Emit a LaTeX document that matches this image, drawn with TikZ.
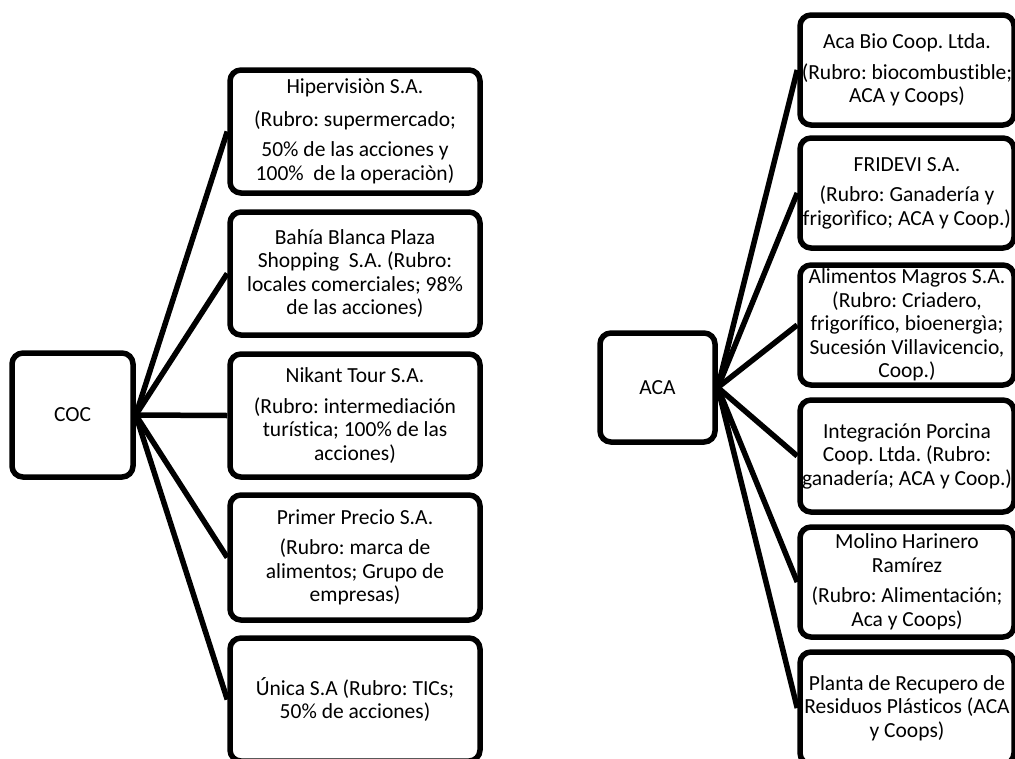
\documentclass[tikz,border=0pt]{standalone}
\usepackage{fontspec}
\setmainfont{Carlito}[Ligatures={NoCommon}]
\frenchspacing
\begin{document}
\begin{tikzpicture}[x=1pt,y=-1pt,
  box/.style={draw=black, line width=5.5pt, rounded corners=11pt, align=center, inner sep=0pt,
    font=\fontsize{21.5}{23.5}\selectfont, fill=white},
  lbox/.style={box, minimum width=250pt, minimum height=123pt},
  rbox/.style={box, minimum width=214pt},
  conn/.style={draw=black, line width=5.5pt}]
\clip (0,0) rectangle (1015,758);
\fill[white] (0,0) rectangle (1015,758);

% left group
\node[box, minimum width=121pt, minimum height=124pt] (coc) at (72.5,415) {COC};
\node[lbox] (b1) at (355,131.5) {Hipervisiòn S.A.\\[9pt](Rubro: supermercado;\\[7pt]50\% de las acciones y\\100\%\ \ de la operaciòn)};
\node[lbox] (b2) at (355,273.5) {Bahía Blanca Plaza\\Shopping\ \ S.A. (Rubro:\\locales comerciales; 98\%\\de las acciones)};
\node[lbox] (b3) at (355,415.5) {Nikant Tour S.A.\\[7pt](Rubro: intermediación\\turística; 100\% de las\\acciones)};
\node[lbox, minimum height=125pt] (b4) at (355,557.5) {Primer Precio S.A.\\[7pt](Rubro: marca de\\alimentos; Grupo de\\empresas)};
\node[lbox] (b5) at (355,699.5) {Única S.A (Rubro: TICs;\\50\% de acciones)};

\draw[conn] (coc.east) -- (b1.west);
\draw[conn] (coc.east) -- (b2.west);
\draw[conn] (coc.east) -- (b3.west);
\draw[conn] (coc.east) -- (b4.west);
\draw[conn] (coc.east) -- (b5.west);

% right group
\node[box, minimum width=115pt, minimum height=109pt] (aca) at (657.5,387.5) {ACA};
\node[rbox, minimum height=110pt] (a1) at (907,70) {Aca Bio Coop. Ltda.\\[7pt](Rubro: biocombustible;\\ACA y Coops)};
\node[rbox, minimum height=110pt] (a2) at (907,193) {FRIDEVI S.A.\\[7pt](Rubro: Ganadería y\\frigorìfico; ACA y Coop.)};
\node[rbox, minimum height=120pt] (a3) at (907,325) {Alimentos Magros S.A.\\(Rubro: Criadero,\\frigorífico, bioenergìa;\\Sucesión Villavicencio,\\Coop.)};
\node[rbox, minimum height=112pt] (a4) at (907,456) {Integración Porcina\\Coop. Ltda. (Rubro:\\ganadería; ACA y Coop.)};
\node[rbox, minimum height=110pt] (a5) at (907,582) {Molino Harinero\\Ramírez\\[7pt](Rubro: Alimentación;\\Aca y Coops)};
\node[rbox, minimum height=112pt] (a6) at (907,708) {Planta de Recupero de\\Residuos Plásticos (ACA\\y Coops)};

\draw[conn] (aca.east) -- (a1.west);
\draw[conn] (aca.east) -- (a2.west);
\draw[conn] (aca.east) -- (a3.west);
\draw[conn] (aca.east) -- (a4.west);
\draw[conn] (aca.east) -- (a5.west);
\draw[conn] (aca.east) -- (a6.west);
\end{tikzpicture}
\end{document}
